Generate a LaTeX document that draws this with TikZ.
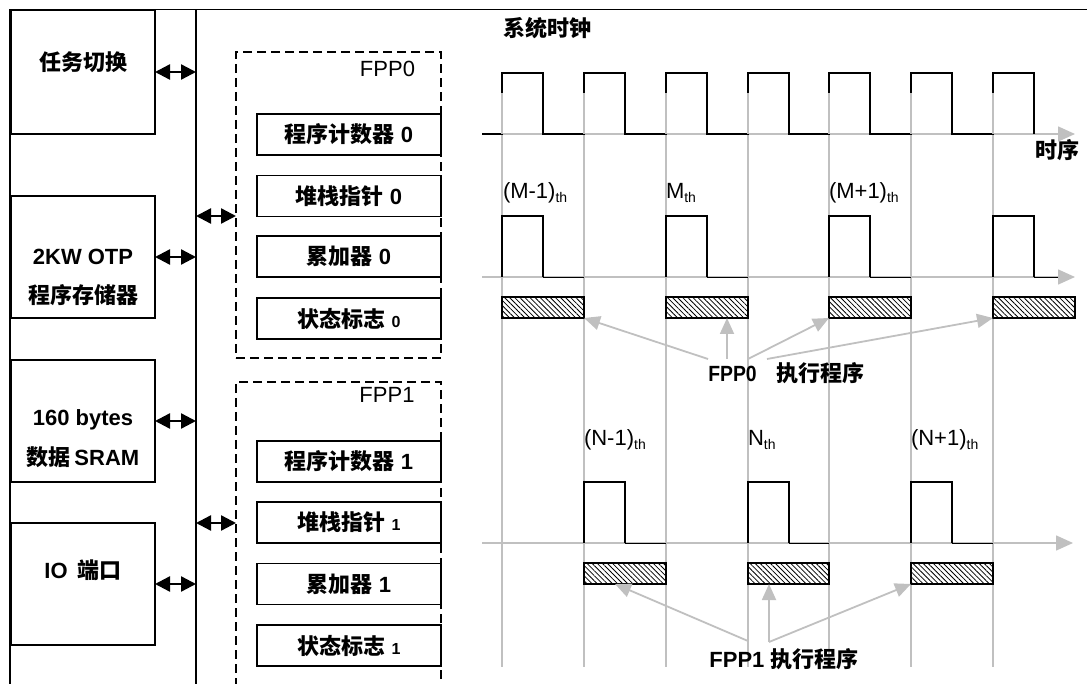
\documentclass[tikz,border=0pt]{standalone}
\usepackage{fontspec}
\setmainfont{Liberation Sans}
\newfontfamily\cjk{Noto Sans CJK SC}
\usetikzlibrary{arrows.meta,patterns.meta,calc}
\definecolor{lg}{HTML}{C0C0C0}
\newcommand\thsub[1]{#1\raisebox{-4pt}{\fontsize{14}{15}\selectfont th}}
\newcommand\smallnum[1]{{\fontsize{16}{18}\selectfont #1}}
\begin{document}
\begin{tikzpicture}[x=1pt,y=-1pt,
  every node/.style={inner sep=0pt,outer sep=0pt},
  f22/.style={font=\fontsize{22}{26}\selectfont},
  b22/.style={font=\fontsize{22}{26}\selectfont\bfseries},
  blkbox/.style={draw,line width=1.4pt,minimum width=144pt,minimum height=122pt},
  regbox/.style={draw,line width=1.3pt,minimum width=184pt,minimum height=41pt,font=\fontsize{22}{26}\selectfont\bfseries},
  fppbox/.style={draw,dash pattern=on 9pt off 5pt,line width=1.5pt,minimum width=205pt},
  dblarrow/.style={{Triangle[length=15pt,width=15pt]}-{Triangle[length=15pt,width=15pt]},line width=2.4pt},
  gline/.style={draw=lg,line width=1.6pt},
  axis/.style={draw=lg,line width=1.6pt,-{Triangle[length=17pt,width=15pt]}},
  garrow/.style={draw=lg,line width=1.8pt,-{Triangle[length=16pt,width=14pt]}},
  wave/.style={line width=1.5pt},
  lowseg/.style={line width=0.6pt},
  hatch/.style={draw,line width=1.3pt,fill=white,postaction={pattern={Lines[angle=-45,distance=3.6pt,line width=0.8pt]}},minimum height=21pt},
]
\useasboundingbox (0,0) rectangle (1087,684);
\clip (0,0) rectangle (1087,684);

% outer frame
\draw[line width=1.5pt] (10,684) -- (10,9.5) -- (1087,9.5);

% left blocks
\node[blkbox,minimum height=124pt] (task) at (83,72) {};
\node[blkbox] (otp) at (83,257) {};
\node[blkbox] (sram) at (83,421) {};
\node[blkbox] (io) at (83,584) {};
\node[b22] (taskT) at (83,62) {{\cjk 任务切换}};
\node[b22] (otpT1) at (83,257) {2KW OTP};
\node[b22] (otpT2) at (83,295) {{\cjk 程序存储器}};
\node[b22] (sramT1) at (83,420) {160 bytes};
\node[b22] (sramT2) at (83,457) {{\cjk 数据}\,SRAM};
\node[b22] (ioT) at (83,570) {IO\hspace{10pt}{\cjk 端口}};

% bus
\coordinate (busT) at (196,9.5);
\coordinate (busB) at (196,684);
\draw[line width=1.4pt] (busT) -- (busB);
\draw[dblarrow] (task.east) -- (task.east -| busT);
\draw[dblarrow] (otp.east) -- (otp.east -| busT);
\draw[dblarrow] (sram.east) -- (sram.east -| busT);
\draw[dblarrow] (io.east) -- (io.east -| busT);

% FPP boxes
\node[fppbox,minimum height=306pt] (fpp0) at (338.5,205) {};
\node[fppbox,minimum height=330pt] (fpp1) at (338.5,547) {};
\node[f22] (fpp0T) at (387.5,69) {FPP0};
\node[f22] (fpp1T) at (387,395) {FPP1};
\coordinate (a0) at (196,216);
\coordinate (a1) at (196,523);
\draw[dblarrow] (a0) -- (a0 -| fpp0.west);
\draw[dblarrow] (a1) -- (a1 -| fpp1.west);

% registers
\node[regbox] (pc0) at (349,134.5) {{\cjk 程序计数器} 0};
\node[regbox] (sp0) at (349,196) {{\cjk 堆栈指针} 0};
\node[regbox] (acc0) at (349,256.5) {{\cjk 累加器} 0};
\node[regbox] (st0) at (349,318.5) {{\cjk 状态标志} \smallnum{0}};
\node[regbox] (pc1) at (349,461.5) {{\cjk 程序计数器} 1};
\node[regbox] (sp1) at (349,522.5) {{\cjk 堆栈指针} \smallnum{1}};
\node[regbox] (acc1) at (349,584) {{\cjk 累加器} 1};
\node[regbox] (st1) at (349,645.5) {{\cjk 状态标志} \smallnum{1}};

% timing: axes
\coordinate (c0s) at (482,134); \coordinate (c0e) at (1075,134);
\coordinate (p0s) at (482,277); \coordinate (p0e) at (1075,277);
\coordinate (p1s) at (482,543); \coordinate (p1e) at (1073,543);
\draw[axis] (c0s) -- (c0e);
\draw[axis] (p0s) -- (p0e);
\draw[axis] (p1s) -- (p1e);

% gray vertical lines
\foreach \x in {502,584,666,748,829,911,993} {
  \draw[gline] (\x,93) -- (\x,667);
}

% clock
\draw[wave] (c0s) foreach \r in {502,584,666,748,829,911,993} {
  -- (\r,134) -- (\r,73) -- ({\r+41},73) -- ({\r+41},134) };
\foreach \x in {502,584,666,748,829,911,993} {
  \draw[gline] (\x,93) -- (\x,134);
}

% FPP0 pulses
\foreach \r/\e in {502/584,666/748,829/911,993/1058} {
  \draw[wave] (\r,277) -- (\r,216) -- ({\r+41},216) -- ({\r+41},277);
  \draw[lowseg] ({\r+41},277) -- (\e,277);
}
% FPP1 pulses
\foreach \r/\e in {584/666,748/829,911/993} {
  \draw[wave] (\r,543) -- (\r,482) -- ({\r+41},482) -- ({\r+41},543);
  \draw[lowseg] ({\r+41},543) -- (\e,543);
}

% hatched bars
\node[hatch,minimum width=82pt] (b01) at (543,307.5) {};
\node[hatch,minimum width=82pt] (b02) at (707,307.5) {};
\node[hatch,minimum width=82pt] (b03) at (870,307.5) {};
\node[hatch,minimum width=82pt] (b04) at (1034,307.5) {};
\node[hatch,minimum width=82pt] (b11) at (625,573.5) {};
\node[hatch,minimum width=81pt] (b12) at (788.5,573.5) {};
\node[hatch,minimum width=82pt] (b13) at (952,573.5) {};

% labels
\node[b22] (clkT) at (547,28) {{\cjk 系统时钟}};
\node[b22] (seqT) at (1057,150) {{\cjk 时序}};
\node[f22,anchor=base west] (m1) at (503,199) {\thsub{(M-1)}};
\node[f22,anchor=base west] (m2) at (666,199) {\thsub{M}};
\node[f22,anchor=base west] (m3) at (829,199) {\thsub{(M+1)}};
\node[f22,anchor=base west] (n1) at (584,445) {\thsub{(N-1)}};
\node[f22,anchor=base west] (n2) at (748,445) {\thsub{N}};
\node[f22,anchor=base west] (n3) at (911,445) {\thsub{(N+1)}};

% FPP0 execution arrows
\coordinate (s1) at (708,359);
\coordinate (s2) at (727,359);
\coordinate (s3) at (748,359);
\coordinate (s4) at (767,359);
\draw[garrow] (s1) -- (b01.south east);
\draw[garrow] (s2) -- (s2 |- b02.south);
\draw[garrow] (s3) -- (b03.south west);
\draw[garrow] (s4) -- (b04.south west);
\node[b22,anchor=base] (ex0) at (786.5,382) {\scalebox{0.88}[1]{FPP0}\hspace{20pt}{\cjk 执行程序}};

% FPP1 execution arrows
\coordinate (t1) at (748,641);
\coordinate (t2) at (769,642);
\draw[garrow] (t1) -- ($(b11.south west)+(31,0)$);
\draw[garrow] (t2) -- (t2 |- b12.south);
\draw[garrow] (t2) -- (b13.south west);
\node[b22,anchor=base] (ex1) at (784,667) {FPP1 {\cjk 执行程序}};
\end{tikzpicture}
\end{document}
